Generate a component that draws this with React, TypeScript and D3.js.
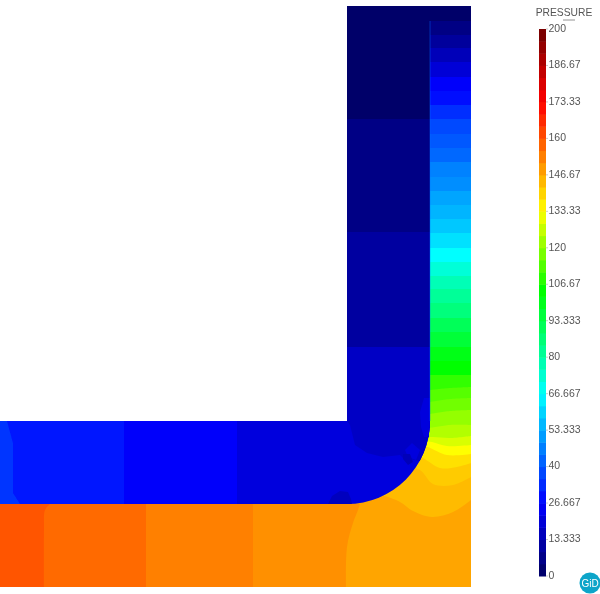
import * as d3 from 'd3';

type Pt = [number, number];

// colour map of the pressure legend
const COLOR_VALUES = [0, 26.667, 66.667, 104, 133.33, 173.33, 200];
const COLOR_STOPS = ['#000060', '#0000ff', '#00ffff', '#00ff00', '#ffff00', '#ff0000', '#700000'];

const LEGEND_LABELS = ['0', '13.333', '26.667', '40', '53.333', '66.667', '80', '93.333', '106.67', '120', '133.33', '146.67', '160', '173.33', '186.67', '200'];
const LEGEND_VALUES = [0, 13.333, 26.667, 40, 53.333, 66.667, 80, 93.333, 106.67, 120, 133.33, 146.67, 160, 173.33, 186.67, 200];
const LEGEND_STEPS = 45;

// geometry in model units (x from the left edge, h from the bottom edge)
const MODEL_W = 471;
const MODEL_H = 581;
const PIPE_LEFT = 347;
const PIPE_RIGHT = 430;
const PIPE_TOP = 166;
const PIPE_BOTTOM = 83;
const BEND_R = 83;
const WALL_SEAM_TOP = 566;

// flat isobars in the right wall, top to bottom, with the pressure under each
const WALL_HEIGHTS = [566, 552, 539, 525, 510, 496, 482, 468, 453, 439, 425, 410, 396, 382, 368, 354, 339, 325, 311, 298, 284, 269, 255, 240, 226, 212];
const WALL_VALUES = [6, 10, 15, 20, 26, 29, 34, 38, 40.5, 43, 47, 49, 52.5, 55, 58, 62, 66.7, 72.4, 77.4, 81.8, 86, 91, 96, 100.5, 104, 109.5];
const WALL_TOP_VALUE = 1.5;

// curved isobars around the bend
const BEND_VALUES = [114, 117, 121, 124.5, 129, 133.3, 138, 141.5, 144, 147.4];
const BEND_LINES: Pt[][] = [
  [[430, 197], [450, 199], [471, 200]],
  [[430, 185], [450, 188], [471, 189]],
  [[430, 173], [450, 176], [471, 177]],
  [[429, 159], [450, 162], [471, 162]],
  [[420, 150], [433, 150], [450, 149], [471, 151]],
  [[420, 147], [432, 145], [447, 141], [471, 142]],
  [[415, 144], [428, 140], [447, 132], [471, 133]],
  [[405, 137], [423, 129], [440, 119], [457, 120], [471, 124]],
  [[330, 125], [400, 122], [420, 117], [433, 103], [453, 102], [471, 110]],
  [[330, 107], [385, 91], [400, 85], [413, 76], [432, 70], [453, 75], [471, 87]],
];

// bottom wall cells, painted from right to left
const FLOOR_VALUES = [150.7, 153.2, 156.7, 160];
const FLOOR_LINES: Pt[][] = [
  [[360, 83], [358, 77], [353, 64], [347, 40], [346, 0]],
  [[253, 83], [253, 0]],
  [[146, 83], [146, 0]],
  [[50, 83], [45, 77], [44, 57], [44, 0]],
];

// cells of the fluid
const RISER_EDGES = [581, 468, 355, 240];
const RISER_VALUES = [1.5, 6.2, 10.7];
const RUN_EDGES = [0, 124, 237];
const RUN_VALUES = [30, 26];
const FLUID_BASE_VALUE = 21;

const PATCH_VALUES = [17, 21, 21, 15, 16, 35];
const PATCHES: Pt[][] = [
  [[347, 240], [440, 240], [440, 122], [403, 129], [400, 132], [383, 130], [367, 134], [355, 142], [350, 162], [347, 166]],
  [[424, 189], [420, 175], [421, 160], [424, 150], [432, 150], [432, 189]],
  [[412, 144], [420, 137], [416, 127], [408, 130], [405, 137]],
  [[403, 133], [410, 133], [413, 125], [408, 122], [403, 128]],
  [[328, 83], [332, 91], [340, 96], [348, 95], [351, 88], [352, 83]],
  [[0, 166], [7, 166], [13, 144], [13, 94], [20, 83], [0, 83]],
];

const WIDTH = 600;
const HEIGHT = 594;

const color = d3.scaleLinear<string>().domain(COLOR_VALUES).range(COLOR_STOPS).clamp(true);
const x = d3.scaleLinear().domain([0, MODEL_W]).range([0, 471]);
const y = d3.scaleLinear().domain([0, MODEL_H]).range([587, 6]);
const legendY = d3.scaleLinear().domain([0, 200]).range([576, 29]);

const curved = d3.line<Pt>().x(d => x(d[0])).y(d => y(d[1])).curve(d3.curveCatmullRom);
const straight = d3.line<Pt>().x(d => x(d[0])).y(d => y(d[1]));

const polygon = (pts: Pt[]) => `${straight(pts)}Z`;

// area under an isobar
function belowLine(pts: Pt[]) {
  const first = pts[0];
  const last = pts[pts.length - 1];
  return `${curved(pts)}L${x(last[0])},${y(0)}L${x(first[0])},${y(0)}Z`;
}

// area left of a cell edge
function leftOfLine(pts: Pt[]) {
  const first = pts[0];
  const last = pts[pts.length - 1];
  return `${curved(pts)}L${x(0)},${y(last[1])}L${x(0)},${y(first[1])}Z`;
}

function solidOutline() {
  return polygon([[0, PIPE_TOP], [PIPE_LEFT, PIPE_TOP], [PIPE_LEFT, MODEL_H], [MODEL_W, MODEL_H], [MODEL_W, 0], [0, 0]]);
}

function fluidOutline() {
  const p = d3.path();
  const cx = x(PIPE_LEFT);
  const cy = y(PIPE_TOP);
  const r = x(BEND_R) - x(0);
  p.moveTo(x(0), cy);
  p.lineTo(cx, cy);
  p.lineTo(cx, y(MODEL_H));
  p.lineTo(x(PIPE_RIGHT), y(MODEL_H));
  p.lineTo(x(PIPE_RIGHT), cy);
  p.arc(cx, cy, r, 0, Math.PI / 2);
  p.lineTo(x(0), y(PIPE_BOTTOM));
  p.closePath();
  return p.toString();
}

export default function App() {
  const stepH = (legendY(0) - legendY(200)) / LEGEND_STEPS;
  const steps = d3.range(LEGEND_STEPS);

  return (
    <svg
      width={WIDTH}
      height={HEIGHT}
      style={{ position: 'fixed', left: 0, top: 0, background: '#fff', fontFamily: '"Liberation Sans", Arial, sans-serif' }}
    >
      <defs>
        <clipPath id="solid-clip"><path d={solidOutline()} /></clipPath>
        <clipPath id="fluid-clip"><path d={fluidOutline()} /></clipPath>
        {/* the screenshot is slightly soft */}
        <filter id="soft" x="-2%" y="-2%" width="104%" height="104%">
          <feGaussianBlur stdDeviation={0.45} />
        </filter>
        <filter id="soft-text" x="-5%" y="-5%" width="110%" height="110%">
          <feGaussianBlur stdDeviation={0.3} />
        </filter>
      </defs>

      <g filter="url(#soft)">
        <g clipPath="url(#solid-clip)">
          <rect x={x(0)} y={y(MODEL_H)} width={x(MODEL_W)} height={y(0) - y(MODEL_H)} fill={color(WALL_TOP_VALUE)} />
          {WALL_HEIGHTS.map((h, i) => (
            <rect key={h} x={x(PIPE_RIGHT)} y={y(h)} width={x(MODEL_W) - x(PIPE_RIGHT)} height={y(0) - y(h)} fill={color(WALL_VALUES[i])} />
          ))}
          {BEND_LINES.map((pts, i) => (
            <path key={i} d={belowLine(pts)} fill={color(BEND_VALUES[i])} />
          ))}
          {FLOOR_LINES.map((pts, i) => (
            <path key={i} d={leftOfLine(pts)} fill={color(FLOOR_VALUES[i])} />
          ))}
        </g>

        <g clipPath="url(#fluid-clip)">
          <rect x={x(0)} y={y(MODEL_H)} width={x(MODEL_W)} height={y(0) - y(MODEL_H)} fill={color(FLUID_BASE_VALUE)} />
          {RISER_VALUES.map((v, i) => (
            <rect key={i} x={x(PIPE_LEFT)} y={y(RISER_EDGES[i])} width={x(PIPE_RIGHT) - x(PIPE_LEFT)} height={y(RISER_EDGES[i + 1]) - y(RISER_EDGES[i])} fill={color(v)} />
          ))}
          {RUN_VALUES.map((v, i) => (
            <rect key={i} x={x(RUN_EDGES[i])} y={y(PIPE_TOP)} width={x(RUN_EDGES[i + 1]) - x(RUN_EDGES[i])} height={y(PIPE_BOTTOM) - y(PIPE_TOP)} fill={color(v)} />
          ))}
          {PATCHES.map((pts, i) => (
            <path key={i} d={polygon(pts)} fill={color(PATCH_VALUES[i])} />
          ))}
        </g>

        {/* brighter seam between fluid and right wall */}
        <line x1={x(PIPE_RIGHT)} x2={x(PIPE_RIGHT)} y1={y(WALL_SEAM_TOP)} y2={y(PIPE_TOP)} stroke="#0070ff" strokeWidth={1} strokeOpacity={0.45} />
      </g>

      {/* legend */}
      <g filter="url(#soft-text)">
        <text x={564} y={16} fontSize={10.3} fill="#555" textAnchor="middle">PRESSURE</text>
        <line x1={563} x2={575} y1={20} y2={20} stroke="#777" strokeWidth={0.8} />
        {steps.map(i => (
          <rect
            key={i}
            x={539}
            y={legendY(0) - (i + 1) * stepH}
            width={7}
            height={stepH + 0.5}
            fill={color(((i + 0.5) / LEGEND_STEPS) * 200)}
          />
        ))}
        {LEGEND_VALUES.map((v, i) => (
          <g key={v}>
            <line x1={546} x2={548} y1={legendY(v)} y2={legendY(v)} stroke="#bbb" strokeWidth={0.8} />
            <text x={548.5} y={legendY(v) - 0.8} dy="0.35em" fontSize={10.5} fill="#555">{LEGEND_LABELS[i]}</text>
          </g>
        ))}

        {/* GiD badge */}
        <circle cx={590} cy={583} r={10.5} fill="#0ba5c9" />
        <text x={590} y={583} dy="0.36em" textAnchor="middle" fontSize={10} fill="#fff">GiD</text>
      </g>
    </svg>
  );
}
